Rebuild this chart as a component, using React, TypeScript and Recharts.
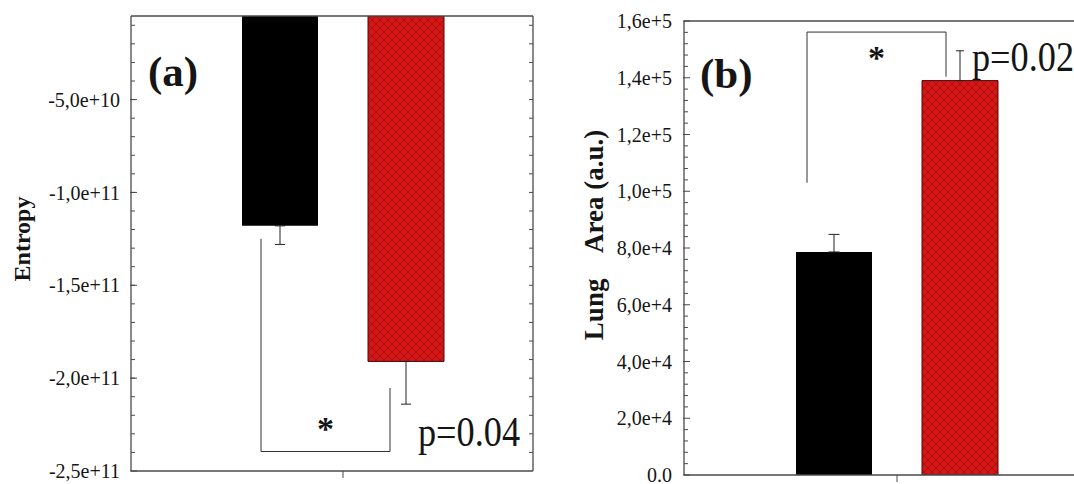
import React from "react";
import { BarChart, Bar, XAxis, YAxis, ErrorBar, Customized } from "recharts";

// ---- panel (a): entropy ----
const groups = ["Control", "Treated"];
const entropyMean = [-1.18e11, -1.91e11];
const entropyErr = [1.0e10, 2.3e10];
const entropyTicks = [-2.5e11, -2e11, -1.5e11, -1e11, -5e10];
const entropyTickLabels = ["-2,5e+11", "-2,0e+11", "-1,5e+11", "-1,0e+11", "-5,0e+10"];
const entropyMinor = [
  -2.4e11, -2.3e11, -2.2e11, -2.1e11, -2e11, -1.9e11, -1.8e11, -1.7e11, -1.6e11, -1.5e11,
  -1.4e11, -1.3e11, -1.2e11, -1.1e11, -1e11, -9e10, -8e10, -7e10, -6e10, -5e10,
  -4e10, -3e10, -2e10, -1e10,
];
const entropyDomain = [-2.5e11, -5e9];

// ---- panel (b): lung area ----
const areaMean = [7.86e4, 1.39e5];
const areaErr = [6.2e3, 1.05e4];
const areaTicks = [0, 2e4, 4e4, 6e4, 8e4, 1e5, 1.2e5, 1.4e5, 1.6e5];
const areaTickLabels = ["0.0", "2,0e+4", "4,0e+4", "6,0e+4", "8,0e+4", "1,0e+5", "1,2e+5", "1,4e+5", "1,6e+5"];
const areaMinor = [
  4e3, 8e3, 1.2e4, 1.6e4, 2.4e4, 2.8e4, 3.2e4, 3.6e4, 4.4e4, 4.8e4, 5.2e4, 5.6e4,
  6.4e4, 6.8e4, 7.2e4, 7.6e4, 8.4e4, 8.8e4, 9.2e4, 9.6e4, 1.04e5, 1.08e5, 1.12e5, 1.16e5,
  1.24e5, 1.28e5, 1.32e5, 1.36e5, 1.44e5, 1.48e5, 1.52e5, 1.56e5,
];
const areaDomain = [0, 1.6e5];

const entropyData = [
  {
    name: "",
    ctrl: entropyMean[0],
    trt: entropyMean[1],
    ctrlErr: [entropyErr[0], 0],
    trtErr: [entropyErr[1], 0],
  },
];
const areaData = [
  {
    name: "",
    ctrl: areaMean[0],
    trt: areaMean[1],
    ctrlErr: [0, areaErr[0]],
    trtErr: [0, areaErr[1]],
  },
];

const SERIF = "Liberation Serif, Times New Roman, serif";
const AXIS = "#4a4a4a";
const INK = "#151515";
const BAR_W = 76;
const BAR_GAP = 50;

// plot boxes (svg coordinates of each chart)
const PA = { left: 131, right: 533, top: 16, bottom: 471, pad: 22 };
const PB = { left: 144, right: 546, top: 21, bottom: 475, pad: 24 };

const yOf = (p: typeof PA, dom: number[], v: number) =>
  p.top + ((dom[1] - v) / (dom[1] - dom[0])) * (p.bottom - p.top);
const centers = (p: typeof PA) => {
  const c = p.left + p.pad + (p.right - p.left - p.pad) / 2;
  return [c - (BAR_W + BAR_GAP) / 2, c + (BAR_W + BAR_GAP) / 2];
};

const tickStyle = { fill: INK, fontSize: 20, fontFamily: SERIF };
const blank = () => "";

function AnnotA() {
  const [cb, cr] = centers(PA);
  const y = (v: number) => yOf(PA, entropyDomain, v);
  const lx = cb - 19;
  const rx = cr - 16;
  return (
    <g fontFamily={SERIF} fill={INK} style={{ fontFamily: SERIF }}>
      <text x={148} y={86} fontSize={43} fontWeight="bold">(a)</text>
      <text
        x={30}
        y={239}
        fontSize={24}
        fontWeight="bold"
        textAnchor="middle"
        transform="rotate(-90 30 239)"
      >
        Entropy
      </text>
      <path
        d={`M${lx},${y(-1.25e11)} V${y(-2.395e11)} H${rx} V${y(-2.053e11)}`}
        fill="none"
        stroke="#333"
        strokeWidth={1}
      />
      <text x={(lx + rx) / 2} y={440} fontSize={34} fontWeight="bold" textAnchor="middle">*</text>
      <text x={418} y={446} fontSize={42} textLength={102} lengthAdjust="spacingAndGlyphs">
        p=0.04
      </text>
    </g>
  );
}

function AnnotB() {
  const [cb, cr] = centers(PB);
  const y = (v: number) => yOf(PB, areaDomain, v);
  const lx = cb - 27;
  const rx = cr - 14;
  return (
    <g fontFamily={SERIF} fill={INK} style={{ fontFamily: SERIF }}>
      <text x={160} y={88} fontSize={43} fontWeight="bold">(b)</text>
      <text
        x={63}
        y={235}
        fontSize={27}
        fontWeight="bold"
        textAnchor="middle"
        style={{ whiteSpace: "pre" }}
        transform="rotate(-90 63 235)"
      >
        {"Lung    Area (a.u.)"}
      </text>
      <path
        d={`M${lx},${y(1.03e5)} V${y(1.561e5)} H${rx} V${y(1.404e5)}`}
        fill="none"
        stroke="#333"
        strokeWidth={1}
      />
      <text x={(lx + rx) / 2} y={69} fontSize={34} fontWeight="bold" textAnchor="middle">*</text>
      <text x={432} y={71} fontSize={42} textLength={102} lengthAdjust="spacingAndGlyphs">
        p=0.02
      </text>
    </g>
  );
}

export default function App() {
  return (
    <div
      style={{
        position: "absolute",
        left: 0,
        top: 0,
        width: 1074,
        height: 484,
        overflow: "hidden",
        background: "#fff",
        fontFamily: SERIF,
      }}
    >
      <svg width={0} height={0} style={{ position: "absolute" }}>
        <defs>
          <pattern id="redHatch" width={8} height={8} patternUnits="userSpaceOnUse">
            <rect width={8} height={8} fill="#d41616" />
            <path d="M0,0 L8,8 M8,0 L0,8" stroke="#a60d0d" strokeWidth={0.8} />
          </pattern>
        </defs>
      </svg>

      {/* (a) */}
      <div style={{ position: "absolute", left: 0, top: 0 }}>
        <BarChart
          width={540}
          height={484}
          data={entropyData}
          margin={{ top: PA.top - 1, right: 540 - PA.right - 1, left: PA.left - 61, bottom: 0 }}
          barSize={BAR_W}
          barGap={BAR_GAP}
        >
          <XAxis
            dataKey="name"
            height={484 - PA.bottom}
            padding={{ left: PA.pad, right: 0 }}
            axisLine={{ stroke: AXIS, strokeWidth: 1.3 }}
            tickLine={{ stroke: AXIS }}
            tickSize={7}
            tickFormatter={blank}
            interval={0}
          />
          <XAxis
            xAxisId="top"
            dataKey="name"
            orientation="top"
            height={1}
            axisLine={{ stroke: AXIS, strokeWidth: 1.3 }}
            tickLine={false}
            tickFormatter={blank}
          />
          {/* axis line + minor ticks (next to the plot) */}
          <YAxis
            width={1}
            type="number"
            domain={entropyDomain}
            allowDataOverflow
            ticks={entropyMinor}
            interval={0}
            tickFormatter={blank}
            tickSize={-4}
            tickLine={{ stroke: AXIS }}
            axisLine={{ stroke: AXIS, strokeWidth: 1.3 }}
          />
          {/* major ticks + labels */}
          <YAxis
            yAxisId="labels"
            width={60}
            type="number"
            domain={entropyDomain}
            allowDataOverflow
            ticks={entropyTicks}
            interval={0}
            tickFormatter={(v: number) => entropyTickLabels[entropyTicks.indexOf(v)] ?? ""}
            tick={tickStyle}
            tickSize={-7}
            tickMargin={17}
            tickLine={{ stroke: AXIS }}
            axisLine={false}
          />
          <YAxis
            yAxisId="right"
            orientation="right"
            width={1}
            type="number"
            domain={entropyDomain}
            allowDataOverflow
            ticks={entropyMinor}
            interval={0}
            tickFormatter={blank}
            tickSize={-4}
            tickLine={{ stroke: AXIS }}
            axisLine={{ stroke: AXIS, strokeWidth: 1.3 }}
          />
          <Bar dataKey="ctrl" name={groups[0]} fill="#000" isAnimationActive={false}>
            <ErrorBar dataKey="ctrlErr" width={5} stroke="#222" strokeWidth={1} direction="y" />
          </Bar>
          <Bar
            dataKey="trt"
            name={groups[1]}
            fill="url(#redHatch)"
            stroke="#4a0a0a"
            strokeWidth={1}
            isAnimationActive={false}
          >
            <ErrorBar dataKey="trtErr" width={5} stroke="#222" strokeWidth={1} direction="y" />
          </Bar>
          <Customized component={AnnotA} />
        </BarChart>
      </div>

      {/* (b) */}
      <div style={{ position: "absolute", left: 540, top: 0 }}>
        <BarChart
          width={560}
          height={484}
          data={areaData}
          margin={{ top: PB.top - 1, right: 560 - PB.right, left: PB.left - 61, bottom: 0 }}
          barSize={BAR_W}
          barGap={BAR_GAP}
        >
          <XAxis
            dataKey="name"
            height={484 - PB.bottom}
            padding={{ left: PB.pad, right: 0 }}
            axisLine={{ stroke: AXIS, strokeWidth: 1.3 }}
            tickLine={{ stroke: AXIS }}
            tickSize={7}
            tickFormatter={blank}
            interval={0}
          />
          <XAxis
            xAxisId="top"
            dataKey="name"
            orientation="top"
            height={1}
            axisLine={{ stroke: AXIS, strokeWidth: 1.3 }}
            tickLine={false}
            tickFormatter={blank}
          />
          <YAxis
            width={1}
            type="number"
            domain={areaDomain}
            allowDataOverflow
            ticks={areaMinor}
            interval={0}
            tickFormatter={blank}
            tickSize={-4}
            tickLine={{ stroke: AXIS }}
            axisLine={{ stroke: AXIS, strokeWidth: 1.3 }}
          />
          <YAxis
            yAxisId="labels"
            width={60}
            type="number"
            domain={areaDomain}
            allowDataOverflow
            ticks={areaTicks}
            interval={0}
            tickFormatter={(v: number) => areaTickLabels[areaTicks.indexOf(v)] ?? ""}
            tick={tickStyle}
            tickSize={-7}
            tickMargin={18}
            tickLine={{ stroke: AXIS }}
            axisLine={false}
          />
          <Bar dataKey="ctrl" name={groups[0]} fill="#000" isAnimationActive={false}>
            <ErrorBar dataKey="ctrlErr" width={5.5} stroke="#222" strokeWidth={1} direction="y" />
          </Bar>
          <Bar
            dataKey="trt"
            name={groups[1]}
            fill="url(#redHatch)"
            stroke="#4a0a0a"
            strokeWidth={1}
            isAnimationActive={false}
          >
            <ErrorBar dataKey="trtErr" width={4} stroke="#222" strokeWidth={1} direction="y" />
          </Bar>
          <Customized component={AnnotB} />
        </BarChart>
      </div>
    </div>
  );
}
